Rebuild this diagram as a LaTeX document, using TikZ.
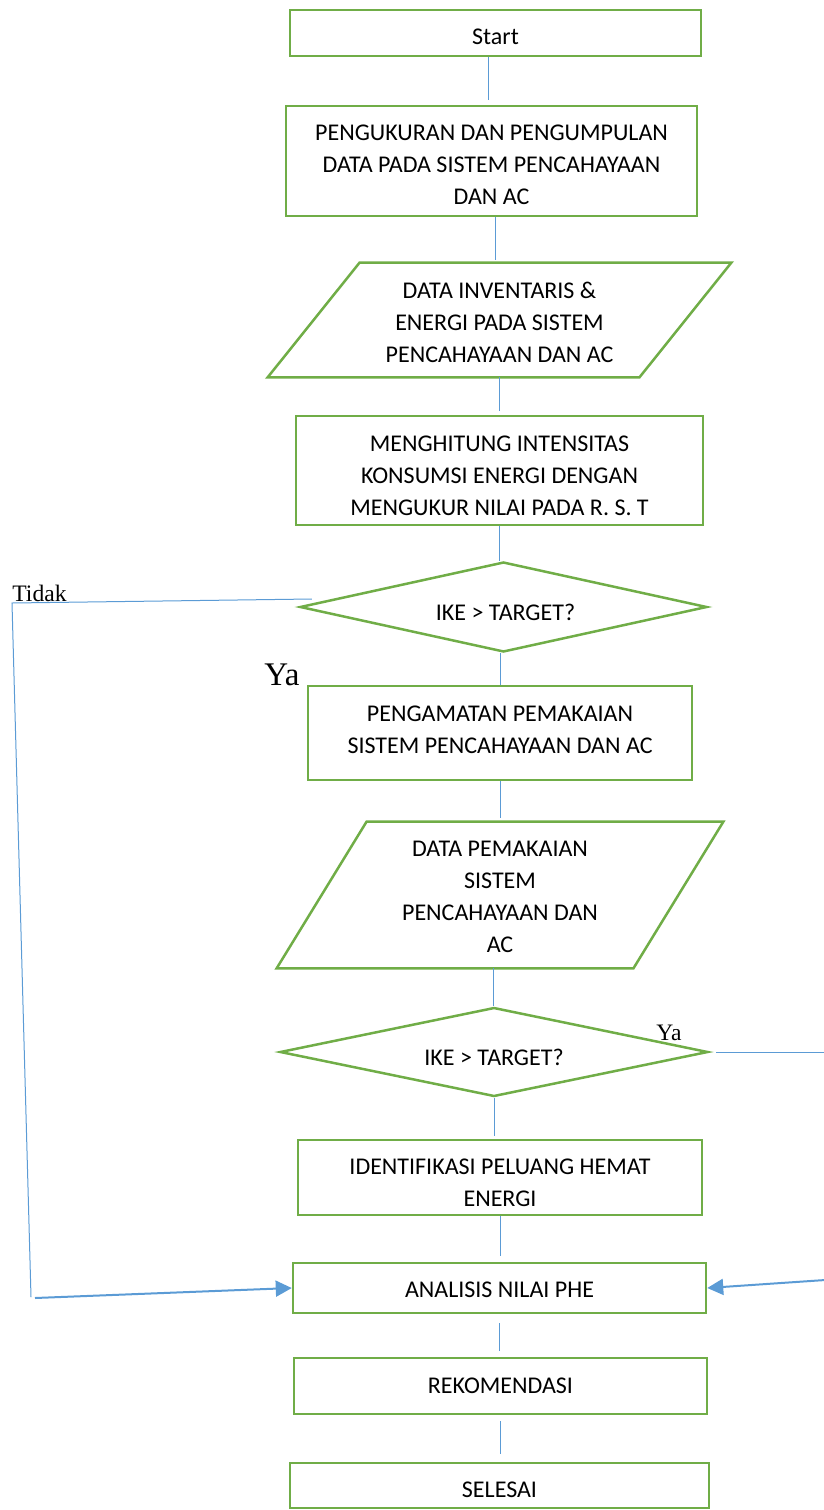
\documentclass[tikz,border=0pt]{standalone}
\usepackage{fontspec}
\setmainfont{Carlito}
\newfontfamily\labelfont{Liberation Serif}
\usetikzlibrary{shapes.geometric,arrows.meta,calc}
\definecolor{flowgreen}{RGB}{112,173,71}
\definecolor{flowblue}{RGB}{91,155,213}
\begin{document}
\begin{tikzpicture}[x=0.5pt,y=-0.5pt,
  box/.style={draw=flowgreen, line width=1.25pt, inner sep=0pt},
  txt/.style={align=center, inner sep=0pt, font=\fontsize{12}{16}\selectfont},
  decision/.style={diamond, draw=flowgreen, line width=1.25pt, aspect=4.5, inner sep=0pt},
  outline/.style={draw=flowgreen, line width=1.25pt, line join=miter},
  conn/.style={draw=flowblue, line width=0.5pt},
  arr/.style={draw=flowblue, line width=1pt, -{Triangle[length=8pt,width=8pt]}},
  lbl/.style={inner sep=0pt, anchor=base west, text=black}]
\useasboundingbox (0,0) rectangle (824,1510);
\clip (0,0) rectangle (824,1510);

% frames of the process boxes, decisions and data blocks
\node[box, minimum width=205.5pt, minimum height=23pt] (s) at (495.5,33) {};
\node[box, minimum width=205.5pt, minimum height=55pt] (b1) at (491.5,161) {};
\node[inner sep=0pt, minimum width=139.5pt, minimum height=57pt] (p1) at (499.5,320) {};
\draw[outline] (p1.north west) -- ([xshift=46pt]p1.north east) -- (p1.south east)
  -- ([xshift=-46pt]p1.south west) -- cycle;
\node[box, minimum width=203.5pt, minimum height=54.5pt] (b2) at (499.5,470.5) {};
\node[decision, minimum width=203.5pt, minimum height=45pt] (d1) at (503.5,607) {};
\node[box, minimum width=192pt, minimum height=47pt] (b3) at (500,733) {};
\node[inner sep=0pt, minimum width=133pt, minimum height=73pt] (p2) at (500,895) {};
\draw[outline] (p2.north west) -- ([xshift=45pt]p2.north east) -- (p2.south east)
  -- ([xshift=-45pt]p2.south west) -- cycle;
\node[decision, minimum width=214pt, minimum height=44.5pt] (d2) at (494,1052) {};
\node[box, minimum width=202pt, minimum height=37.5pt] (b4) at (500,1177.5) {};
\node[box, minimum width=206.5pt, minimum height=25pt] (b5) at (499.5,1288) {};
\node[box, minimum width=206.5pt, minimum height=28pt] (b6) at (500.5,1386) {};
\node[box, minimum width=209.5pt, minimum height=22.5pt] (b7) at (499.5,1485.5) {};

% texts inside the shapes
\node[txt] (st) at ([yshift=-2pt]s.center) {Start};
\node[txt] (b1t) at ([yshift=-2pt]b1.center)
  {PENGUKURAN DAN PENGUMPULAN\\DATA PADA SISTEM PENCAHAYAAN\\DAN AC};
\node[txt] (p1t) at ([yshift=-1pt]p1.center)
  {DATA INVENTARIS \&\\ENERGI PADA SISTEM\\PENCAHAYAAN DAN AC};
\node[txt] (b2t) at ([yshift=-2.5pt]b2.center)
  {MENGHITUNG INTENSITAS\\KONSUMSI ENERGI DENGAN\\MENGUKUR NILAI PADA R. S. T};
\node[txt] (d1t) at ([xshift=1pt,yshift=-2.5pt]d1.center) {IKE > TARGET?};
\node[txt] (b3t) at ([yshift=1.5pt]b3.center)
  {PENGAMATAN PEMAKAIAN\\SISTEM PENCAHAYAAN DAN AC};
\node[txt] (p2t) at ([yshift=-1pt]p2.center)
  {DATA PEMAKAIAN\\SISTEM\\PENCAHAYAAN DAN\\AC};
\node[txt] (d2t) at ([yshift=-2.5pt]d2.center) {IKE > TARGET?};
\node[txt] (b4t) at ([yshift=-2.5pt]b4.center) {IDENTIFIKASI PELUANG HEMAT\\ENERGI};
\node[txt] (b5t) at ([yshift=-1pt]b5.center) {ANALISIS NILAI PHE};
\node[txt] (b6t) at (b6.center) {REKOMENDASI};
\node[txt] (b7t) at ([yshift=-2pt]b7.center) {SELESAI};

% straight connectors down the main column
\draw[conn] ([xshift=-3.75pt]s.south) -- ([xshift=-3.75pt,yshift=2.5pt]s.south |- b1.north);
\draw[conn] ([xshift=1.75pt]b1.south) -- ([xshift=1.75pt,yshift=1.5pt]b1.south |- p1.north);
\draw[conn] (p1.south) -- ([yshift=2pt]p1.south |- b2.north);
\draw[conn] (b2.south) -- (b2.south |- d1.north);
\draw[conn] (d1.south -| b3.north) -- (b3.north);
\draw[conn] (b3.south) -- ([yshift=2pt]b3.south |- p2.north);
\draw[conn] ([xshift=-3.5pt]p2.south) -- ([xshift=-3.5pt]p2.south |- d2.north);
\draw[conn] (d2.south) -- ([yshift=1.5pt]d2.south |- b4.north);
\draw[conn] (b4.south) -- ([yshift=3pt]b4.south |- b5.north);
\draw[conn] ([yshift=-4.5pt]b5.south) -- ([yshift=3pt]b5.south |- b6.north);
\draw[conn] ([yshift=-3pt]b6.south) -- ([yshift=4pt]b6.south |- b7.north);

% "Tidak" branch round the left side
\coordinate (tl) at (12,603);
\coordinate (bl) at (31,1297);
\draw[conn] ([xshift=6.5pt,yshift=4pt]d1.west) -- (tl) -- (bl);
\draw[arr] ([xshift=2pt,yshift=-0.5pt]bl) -- (b5.west);

% "Ya" branch round the right side
\coordinate (tr) at (840,1052);
\coordinate (br) at (840,1279);
\draw[conn] ([xshift=3.5pt]d2.east) -- (tr) -- (br);
\draw[arr] (br) -- (b5.east);

% branch labels
\node[lbl, font=\labelfont\fontsize{11.8}{14}\selectfont] (tidak) at (12,601.5) {Tidak};
\node[lbl, font=\labelfont\fontsize{16.5}{19}\selectfont] (ya1) at (264,685) {Ya};
\node[lbl, font=\labelfont\fontsize{11.8}{14}\selectfont] (ya2) at (656,1040) {Ya};
\end{tikzpicture}
\end{document}
